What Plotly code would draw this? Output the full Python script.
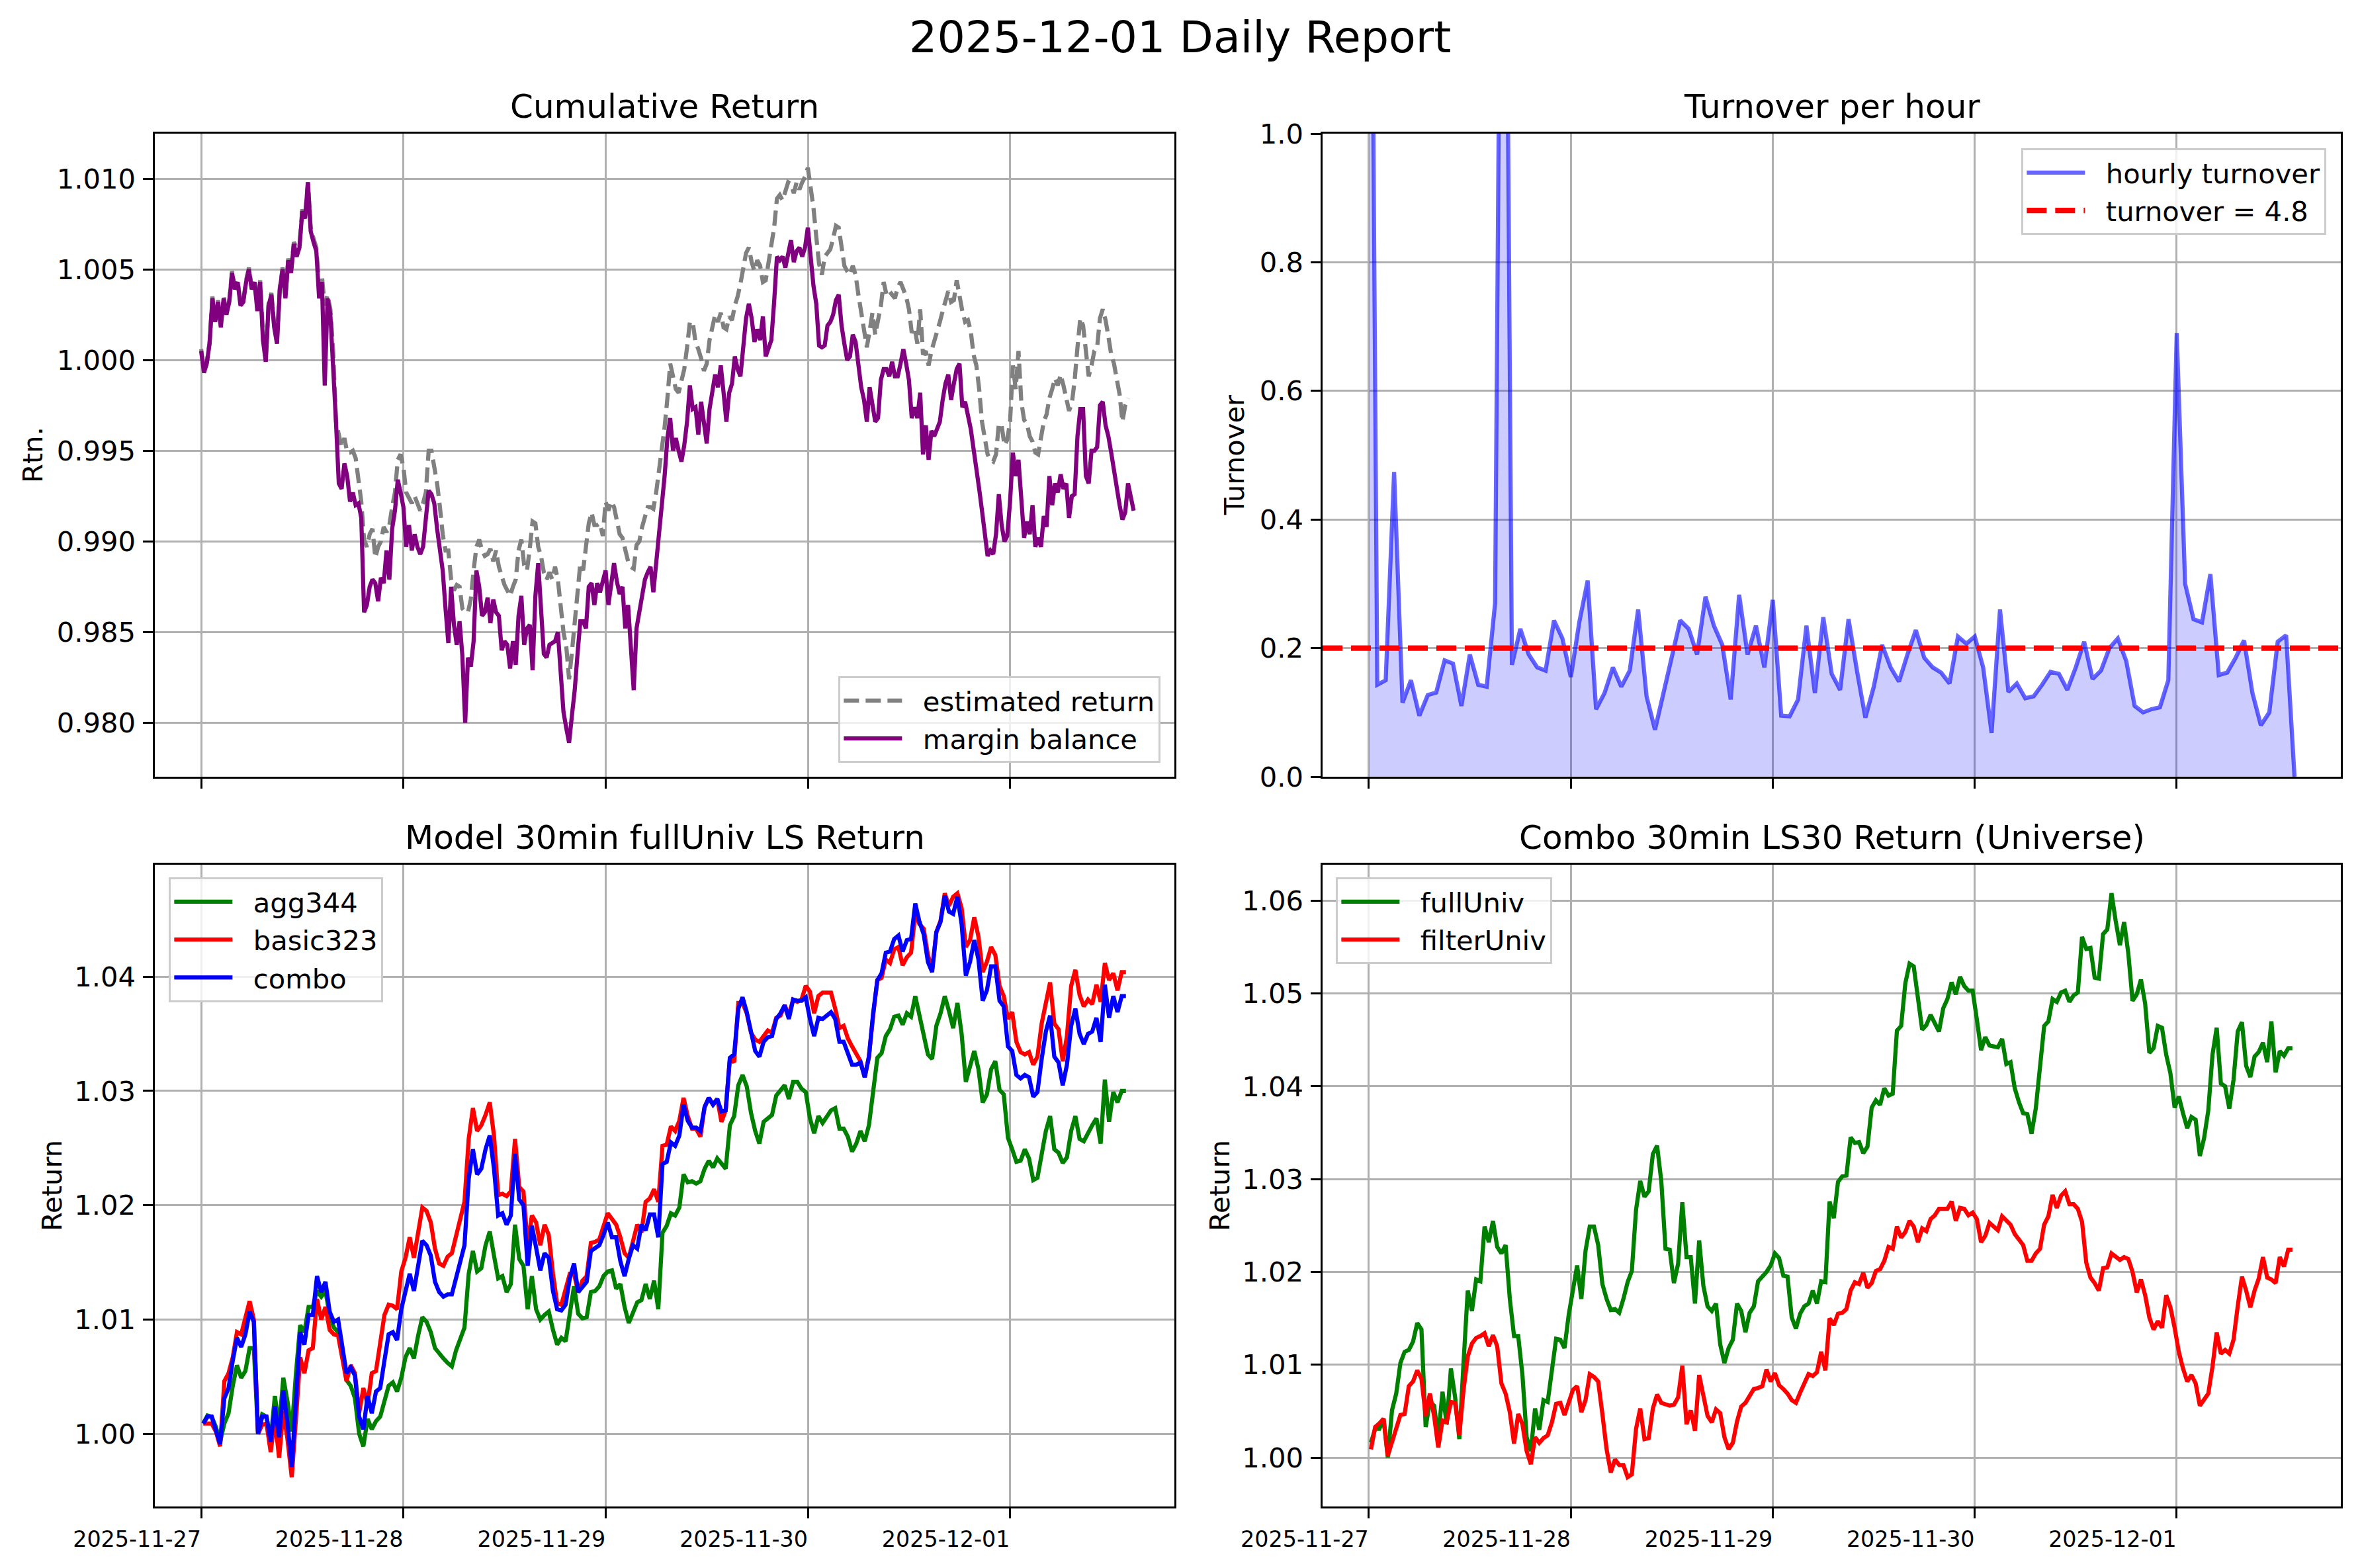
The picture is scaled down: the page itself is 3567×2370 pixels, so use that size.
#!/usr/bin/env python3
# -*- coding: utf-8 -*-
"""
================================================================================
DAILY REPORT DASHBOARD (2025-12-01) - Plotly rebuild
================================================================================
Cumulative return, hourly turnover and the two 30-minute long/short panels.
================================================================================
"""
import pandas as pd
import plotly.graph_objects as go

# =============================================================================
# DATA
# =============================================================================
REPORT_DATE = "2025-12-01"
START = pd.Timestamp("2025-11-27 00:00")        # cumulative return / turnover
START_30MIN = pd.Timestamp("2025-11-27 00:15")  # 30min model + combo returns

# cumulative return, 20-minute samples, basis points above 1.0
ESTIMATED_RETURN_BP = [
    6, -6, -1, 10, 35, 22, 33, 19, 35, 26, 33, 49, 40, 44, 31, 33, 44, 51, 40, 44,
    28, 44, 14, 1, 31, 37, 19, 12, 40, 51, 35, 56, 49, 65, 62, 63, 83, 79, 98, 73,
    67, 62, 40, 46, 30, 36, 28, 5, -34, -42, -48, -43, -51, -51, -50, -54, -66, -78,
    -99, -103, -96, -93, -109, -103, -100, -92, -95, -91, -81, -73, -55, -52, -59, -73,
    -76, -79, -75, -79, -83, -79, -73, -50, -50, -59, -68, -81, -96, -105, -105, -121,
    -127, -124, -125, -137, -139, -139, -132, -116, -103, -99, -105, -108, -107, -104,
    -111, -105, -114, -119, -124, -127, -130, -125, -121, -105, -99, -113, -116, -104,
    -89, -90, -103, -108, -117, -121, -117, -121, -114, -121, -135, -150, -158, -176,
    -161, -144, -132, -112, -116, -104, -90, -84, -91, -91, -90, -97, -78, -83, -78,
    -81, -88, -96, -98, -106, -111, -114, -115, -102, -100, -92, -86, -81, -81, -82,
    -73, -62, -50, -37, -21, -2, -9,
    -16, -18, -12, -5, 7, 21, 21, 10, 6, 1, -6, -2, 11, 18, 25, 21, 26, 18, 17, 24,
    22, 30, 35, 42, 51, 59, 62, 54, 49, 55, 52, 43, 44, 54, 61, 73, 89, 91, 88, 93,
    98, 97, 92, 98, 94, 98, 101, 106, 96, 84, 68, 53, 47, 57, 59, 61, 67, 74, 73, 64,
    52, 49, 47, 52, 47, 36, 27, 19, 7, 16, 26, 14, 22, 30, 43, 36, 38, 36, 34, 40,
    43, 39, 35, 28, 15, 18, 9, 28, 3, 5, -3, 5, 10, 16, 21, 27, 32, 38, 32, 33,
    44, 34, 27, 21, 22, 16, 3, -3, -16, -34, -45, -52, -55, -56, -52, -35, -36, -47,
    -44, -34, -3, -16, 5, -23, -33, -35, -42, -45, -51, -52, -43, -34, -30, -21, -16,
    -10, -14, -8, -14, -21, -28, -24, -11, 7, 23, 19, 2, -9, -3, 5, 7, 23, 28, 22,
    13, 3, -2, -12, -19, -34, -25, -21,
]
MARGIN_BALANCE_BP = [
    5, -7, -2, 9, 34, 21, 32, 18, 34, 25, 32, 48, 39, 43, 30, 32, 43, 50, 39, 43,
    27, 43, 11, -1, 30, 36, 18, 9, 39, 50, 34, 55, 48, 64, 57, 62, 82, 78, 98, 71,
    65, 60, 34, 43, -14, 34, 25, 0, -34, -68, -71, -57, -64, -78, -73, -80, -79, -87,
    -139, -135, -125, -121, -123, -133, -120, -123, -105, -121, -93, -83, -66, -73,
    -81, -103, -91, -105, -96, -103, -107, -103, -87, -72, -74, -79, -93, -107, -116,
    -137, -156, -125, -146, -157, -144, -163, -200, -164, -169, -155, -116, -125,
    -141, -139, -131, -145, -132, -139, -141, -160, -155, -157, -170, -155, -168,
    -141, -130, -157, -148, -146, -171, -130, -112, -137, -162, -164, -157, -156,
    -155, -150, -169, -194, -203, -211, -196, -182, -162, -144, -144, -148, -125,
    -123, -135, -123, -128, -121, -116, -135, -121, -112, -122, -129, -125, -148,
    -135, -157, -182, -148, -140, -131, -121, -117, -114, -128, -112, -100, -82, -64,
    -43, -32, -50,
    -43, -50, -56, -47, -34, -14, -27, -26, -41, -23, -35, -46, -27, -16, -8, -15,
    -3, -18, -34, -18, -13, 2, -5, -9, 9, 23, 31, 23, 10, 17, 11, 24, 2, 7, 11, 32,
    57, 55, 57, 51, 59, 66, 54, 60, 62, 57, 62, 73, 57, 41, 31, 8, 7, 8, 19, 21, 25,
    33, 36, 19, 9, 0, 2, 14, 10, -3, -15, -22, -34, -15, -25, -34, -32, -11, -5, -5,
    -9, -1, -9, -9, -2, 6, -2, -11, -32, -26, -32, -18, -52, -36, -55, -39, -42, -38,
    -34, -22, -13, -8, -22, -13, -5, -2, -26, -23, -30, -38, -49, -59, -71, -83, -97,
    -108, -105, -107, -96, -74, -91, -100, -97, -78, -51, -64, -55, -74, -98, -89,
    -96, -80, -103, -98, -103, -86, -92, -64, -80, -68, -73, -63, -71, -68, -87, -75,
    -74, -42, -27, -27, -64, -68, -50, -50, -48, -25, -23, -36, -42, -51, -62, -70,
    -80, -88, -84, -68, -75, -83,
]

# hourly turnover (first hour and the 16:00 rebalance are off the chart)
HOURLY_TURNOVER = [
    2.0, 0.143, 0.15, 0.474, 0.115, 0.15, 0.095, 0.127, 0.131, 0.181,
    0.176, 0.11, 0.19, 0.143, 0.14, 0.27, 2.0, 0.174, 0.23, 0.19,
    0.17, 0.165, 0.243, 0.215, 0.155, 0.24, 0.305, 0.105, 0.13, 0.17,
    0.14, 0.165, 0.26, 0.125, 0.073, 0.13, 0.185, 0.243, 0.23, 0.19,
    0.28, 0.235, 0.205, 0.12, 0.283, 0.19, 0.235, 0.17, 0.275, 0.095,
    0.094, 0.12, 0.235, 0.13, 0.248, 0.16, 0.135, 0.245, 0.165, 0.092,
    0.14, 0.205, 0.17, 0.148, 0.19, 0.228, 0.185, 0.17, 0.162, 0.145,
    0.218, 0.207, 0.218, 0.17, 0.068, 0.26, 0.132, 0.145, 0.122, 0.125,
    0.143, 0.163, 0.16, 0.135, 0.17, 0.21, 0.152, 0.165, 0.2, 0.215,
    0.18, 0.11, 0.1, 0.105, 0.108, 0.15, 0.69, 0.3, 0.245, 0.24,
    0.315, 0.158, 0.162, 0.185, 0.212, 0.13, 0.08, 0.1, 0.21, 0.22,
    0.0,
]
DAILY_TURNOVER = 4.8

# Model 30min fullUniv LS Return
AGG344 = [
    1.0009, 1.0016, 1.0015, 1.0006, 0.9993, 1.0009, 1.0018, 1.0042, 1.0060, 1.0049,
    1.0055, 1.0075, 1.0075, 1.0000, 1.0017, 1.0015, 0.9995, 1.0033, 1.0006, 1.0049,
    1.0028, 1.0002, 1.0053, 1.0095, 1.0089, 1.0111, 1.0111, 1.0125, 1.0120, 1.0125,
    1.0104, 1.0093, 1.0089, 1.0071, 1.0047, 1.0042, 1.0031, 1.0000, 0.9989, 1.0013,
    1.0004, 1.0011, 1.0015, 1.0029, 1.0042, 1.0045, 1.0037, 1.0049, 1.0067, 1.0075,
    1.0066, 1.0086, 1.0102, 1.0098, 1.0089, 1.0075, 1.0070, 1.0066, 1.0062, 1.0059,
    1.0073, 1.0082, 1.0093, 1.0140, 1.0160, 1.0142, 1.0145, 1.0165, 1.0177, 1.0156,
    1.0136, 1.0138, 1.0124, 1.0131, 1.0183, 1.0153, 1.0147, 1.0109, 1.0138, 1.0109,
    1.0100, 1.0104, 1.0107, 1.0091, 1.0078, 1.0084, 1.0081, 1.0105, 1.0129, 1.0105,
    1.0101, 1.0102, 1.0124, 1.0125, 1.0129, 1.0138, 1.0142, 1.0143, 1.0127, 1.0131,
    1.0111, 1.0097, 1.0107, 1.0115, 1.0117, 1.0131, 1.0118, 1.0134, 1.0109,
    1.0176, 1.0182, 1.0193, 1.0191, 1.0198, 1.0227, 1.0220, 1.0221, 1.0219, 1.0221,
    1.0232, 1.0239, 1.0233, 1.0241, 1.0236, 1.0232, 1.0270, 1.0278, 1.0305, 1.0314,
    1.0304, 1.0281, 1.0265, 1.0254, 1.0273, 1.0276, 1.0279, 1.0296, 1.0300, 1.0305,
    1.0293, 1.0308, 1.0308, 1.0302, 1.0299, 1.0276, 1.0263, 1.0278, 1.0272, 1.0278,
    1.0283, 1.0285, 1.0267, 1.0267, 1.0260, 1.0247, 1.0254, 1.0265, 1.0256, 1.0270,
    1.0299, 1.0329, 1.0333, 1.0348, 1.0354, 1.0365, 1.0366, 1.0358, 1.0368, 1.0365,
    1.0383, 1.0365, 1.0350, 1.0332, 1.0328, 1.0357, 1.0368, 1.0383, 1.0370, 1.0355,
    1.0377, 1.0350, 1.0308, 1.0321, 1.0335, 1.0319, 1.0290, 1.0297, 1.0319, 1.0326,
    1.0301, 1.0297, 1.0259, 1.0249, 1.0238, 1.0239, 1.0249, 1.0241, 1.0222, 1.0224,
    1.0245, 1.0265, 1.0278, 1.0249, 1.0246, 1.0237, 1.0242, 1.0265, 1.0278, 1.0258,
    1.0256, 1.0264, 1.0270, 1.0276, 1.0254, 1.0310, 1.0273, 1.0299, 1.0290, 1.0300,
    1.0300,
]
BASIC323 = [
    1.0009, 1.0009, 1.0009, 1.0002, 0.9989, 1.0046, 1.0053, 1.0067, 1.0089, 1.0087,
    1.0102, 1.0116, 1.0100, 1.0000, 1.0008, 1.0009, 0.9984, 1.0013, 0.9979, 1.0020,
    0.9995, 0.9962, 1.0013, 1.0067, 1.0053, 1.0073, 1.0075, 1.0118, 1.0100, 1.0111,
    1.0091, 1.0087, 1.0086, 1.0064, 1.0046, 1.0060, 1.0053, 1.0018, 1.0040, 1.0026,
    1.0053, 1.0055, 1.0082, 1.0104, 1.0113, 1.0112, 1.0109, 1.0142, 1.0154, 1.0172,
    1.0154, 1.0178, 1.0198, 1.0195, 1.0185, 1.0162, 1.0149, 1.0147, 1.0155, 1.0158,
    1.0174, 1.0191, 1.0203, 1.0258, 1.0285, 1.0265, 1.0270, 1.0279, 1.0290, 1.0261,
    1.0209, 1.0210, 1.0208, 1.0212, 1.0258, 1.0216, 1.0212, 1.0165, 1.0191, 1.0185,
    1.0165, 1.0183, 1.0174, 1.0140, 1.0114, 1.0113, 1.0125, 1.0140, 1.0140, 1.0124,
    1.0134, 1.0138, 1.0167, 1.0168, 1.0170, 1.0183, 1.0193, 1.0188, 1.0183, 1.0172,
    1.0158, 1.0154, 1.0169, 1.0183, 1.0176, 1.0203, 1.0206, 1.0214, 1.0203,
    1.0252, 1.0253, 1.0269, 1.0265, 1.0274, 1.0294, 1.0278, 1.0267, 1.0267, 1.0260,
    1.0286, 1.0294, 1.0288, 1.0293, 1.0273, 1.0283, 1.0329, 1.0325, 1.0377, 1.0377,
    1.0368, 1.0351, 1.0345, 1.0343, 1.0348, 1.0353, 1.0351, 1.0364, 1.0366, 1.0375,
    1.0366, 1.0380, 1.0378, 1.0380, 1.0392, 1.0387, 1.0368, 1.0383, 1.0386, 1.0386,
    1.0386, 1.0372, 1.0355, 1.0357, 1.0346, 1.0339, 1.0333, 1.0326, 1.0312, 1.0330,
    1.0366, 1.0397, 1.0399, 1.0415, 1.0412, 1.0424, 1.0426, 1.0410, 1.0417, 1.0421,
    1.0455, 1.0446, 1.0442, 1.0419, 1.0406, 1.0439, 1.0449, 1.0473, 1.0462, 1.0470,
    1.0473, 1.0460, 1.0426, 1.0432, 1.0452, 1.0435, 1.0404, 1.0413, 1.0426, 1.0419,
    1.0392, 1.0383, 1.0363, 1.0369, 1.0343, 1.0334, 1.0332, 1.0334, 1.0323, 1.0330,
    1.0359, 1.0379, 1.0395, 1.0359, 1.0354, 1.0326, 1.0348, 1.0392, 1.0406, 1.0384,
    1.0374, 1.0380, 1.0376, 1.0393, 1.0378, 1.0412, 1.0397, 1.0403, 1.0388, 1.0404,
    1.0404,
]
COMBO = [
    1.0009, 1.0015, 1.0015, 1.0004, 0.9991, 1.0031, 1.0040, 1.0064, 1.0084, 1.0076,
    1.0087, 1.0107, 1.0098, 1.0000, 1.0015, 1.0015, 0.9993, 1.0024, 0.9997, 1.0038,
    1.0009, 0.9971, 1.0031, 1.0089, 1.0078, 1.0104, 1.0104, 1.0138, 1.0124, 1.0133,
    1.0107, 1.0098, 1.0100, 1.0075, 1.0053, 1.0058, 1.0051, 1.0015, 1.0004, 1.0033,
    1.0018, 1.0037, 1.0040, 1.0064, 1.0087, 1.0089, 1.0082, 1.0109, 1.0125, 1.0140,
    1.0125, 1.0147, 1.0169, 1.0165, 1.0156, 1.0133, 1.0124, 1.0120, 1.0122, 1.0122,
    1.0136, 1.0153, 1.0165, 1.0223, 1.0249, 1.0227, 1.0232, 1.0249, 1.0261, 1.0232,
    1.0191, 1.0193, 1.0183, 1.0191, 1.0245, 1.0205, 1.0200, 1.0147, 1.0182, 1.0163,
    1.0143, 1.0158, 1.0154, 1.0125, 1.0109, 1.0108, 1.0113, 1.0136, 1.0149, 1.0124,
    1.0129, 1.0133, 1.0160, 1.0162, 1.0165, 1.0174, 1.0185, 1.0172, 1.0172, 1.0151,
    1.0138, 1.0153, 1.0165, 1.0162, 1.0183, 1.0178, 1.0192, 1.0192, 1.0172,
    1.0236, 1.0238, 1.0255, 1.0252, 1.0261, 1.0288, 1.0274, 1.0268, 1.0268, 1.0265,
    1.0286, 1.0294, 1.0288, 1.0293, 1.0282, 1.0283, 1.0329, 1.0332, 1.0372, 1.0382,
    1.0369, 1.0350, 1.0335, 1.0330, 1.0343, 1.0347, 1.0348, 1.0363, 1.0368, 1.0375,
    1.0363, 1.0380, 1.0379, 1.0379, 1.0382, 1.0363, 1.0348, 1.0364, 1.0363, 1.0366,
    1.0369, 1.0363, 1.0343, 1.0343, 1.0332, 1.0323, 1.0323, 1.0325, 1.0312, 1.0330,
    1.0368, 1.0397, 1.0403, 1.0421, 1.0422, 1.0433, 1.0436, 1.0422, 1.0432, 1.0433,
    1.0464, 1.0448, 1.0437, 1.0413, 1.0404, 1.0439, 1.0448, 1.0471, 1.0457, 1.0455,
    1.0470, 1.0446, 1.0401, 1.0413, 1.0432, 1.0415, 1.0379, 1.0388, 1.0409, 1.0409,
    1.0379, 1.0374, 1.0339, 1.0335, 1.0314, 1.0311, 1.0314, 1.0312, 1.0295, 1.0299,
    1.0328, 1.0352, 1.0366, 1.0330, 1.0325, 1.0305, 1.0323, 1.0357, 1.0372, 1.0350,
    1.0341, 1.0350, 1.0352, 1.0364, 1.0343, 1.0393, 1.0364, 1.0383, 1.0369, 1.0383,
    1.0383,
]

# Combo 30min LS30 Return (Universe)
FULL_UNIV = [
    1.0016, 1.0031, 1.0031, 1.0042, 1.0000, 1.0051, 1.0069, 1.0102, 1.0114, 1.0116,
    1.0125, 1.0145, 1.0138, 1.0033, 1.0060, 1.0056, 1.0022, 1.0071, 1.0036, 1.0096,
    1.0065, 1.0020, 1.0102, 1.0180, 1.0158, 1.0192, 1.0190, 1.0249, 1.0232, 1.0255,
    1.0227, 1.0220, 1.0229, 1.0171, 1.0131, 1.0131, 1.0089, 1.0022, 1.0007, 1.0053,
    1.0030, 1.0062, 1.0060, 1.0094, 1.0128, 1.0127, 1.0118, 1.0154, 1.0180, 1.0207,
    1.0171, 1.0223, 1.0249, 1.0249, 1.0229, 1.0187, 1.0171, 1.0159, 1.0160, 1.0156,
    1.0171, 1.0189, 1.0201, 1.0267, 1.0298, 1.0281, 1.0287, 1.0327, 1.0336, 1.0298,
    1.0225, 1.0224, 1.0188, 1.0209, 1.0275, 1.0216, 1.0216, 1.0166, 1.0234, 1.0185,
    1.0163, 1.0158, 1.0166, 1.0122, 1.0102, 1.0118, 1.0127, 1.0166, 1.0158, 1.0135,
    1.0156, 1.0163, 1.0190, 1.0195, 1.0200, 1.0207, 1.0220, 1.0215, 1.0196, 1.0195,
    1.0151, 1.0139, 1.0155, 1.0163, 1.0166, 1.0180, 1.0166, 1.0190, 1.0189,
    1.0276, 1.0258, 1.0297, 1.0303, 1.0304, 1.0345, 1.0339, 1.0340, 1.0328, 1.0335,
    1.0377, 1.0385, 1.0380, 1.0398, 1.0390, 1.0392, 1.0460, 1.0465, 1.0511, 1.0532,
    1.0529, 1.0497, 1.0461, 1.0466, 1.0477, 1.0468, 1.0459, 1.0484, 1.0494, 1.0512,
    1.0499, 1.0518, 1.0508, 1.0503, 1.0503, 1.0472, 1.0439, 1.0453, 1.0444, 1.0443,
    1.0442, 1.0451, 1.0424, 1.0426, 1.0398, 1.0383, 1.0371, 1.0370, 1.0349, 1.0376,
    1.0421, 1.0465, 1.0470, 1.0494, 1.0491, 1.0501, 1.0503, 1.0491, 1.0498, 1.0501,
    1.0561, 1.0548, 1.0549, 1.0517, 1.0516, 1.0564, 1.0569, 1.0608, 1.0578, 1.0552,
    1.0577, 1.0543, 1.0492, 1.0499, 1.0515, 1.0489, 1.0436, 1.0441, 1.0465, 1.0463,
    1.0434, 1.0414, 1.0377, 1.0389, 1.0371, 1.0355, 1.0367, 1.0364, 1.0325, 1.0344,
    1.0374, 1.0434, 1.0463, 1.0403, 1.0400, 1.0376, 1.0407, 1.0459, 1.0469, 1.0422,
    1.0410, 1.0432, 1.0437, 1.0447, 1.0426, 1.0470, 1.0415, 1.0438, 1.0433, 1.0441,
    1.0441,
]
FILTER_UNIV = [
    1.0009, 1.0033, 1.0037, 1.0042, 1.0002, 1.0016, 1.0033, 1.0046, 1.0047, 1.0077,
    1.0082, 1.0094, 1.0085, 1.0045, 1.0069, 1.0045, 1.0011, 1.0040, 1.0038, 1.0060,
    1.0059, 1.0024, 1.0073, 1.0109, 1.0123, 1.0129, 1.0131, 1.0134, 1.0120, 1.0132,
    1.0120, 1.0080, 1.0069, 1.0049, 1.0015, 1.0047, 1.0036, 1.0007, 0.9993, 1.0022,
    1.0016, 1.0021, 1.0024, 1.0038, 1.0058, 1.0059, 1.0046, 1.0058, 1.0073, 1.0077,
    1.0049, 1.0062, 1.0090, 1.0087, 1.0082, 1.0047, 1.0009, 0.9984, 0.9998, 0.9992,
    0.9992, 0.9979, 0.9982, 1.0031, 1.0053, 1.0020, 1.0021, 1.0053, 1.0068, 1.0059,
    1.0057, 1.0056, 1.0057, 1.0065, 1.0099, 1.0036, 1.0051, 1.0029, 1.0089, 1.0067,
    1.0045, 1.0038, 1.0052, 1.0048, 1.0022, 1.0009, 1.0016, 1.0039, 1.0055, 1.0059,
    1.0067, 1.0074, 1.0075, 1.0077, 1.0095, 1.0082, 1.0091, 1.0078, 1.0074, 1.0069,
    1.0062, 1.0059, 1.0070, 1.0079, 1.0090, 1.0088, 1.0092, 1.0114, 1.0094,
    1.0150, 1.0143, 1.0155, 1.0156, 1.0160, 1.0180, 1.0189, 1.0187, 1.0199, 1.0183,
    1.0188, 1.0201, 1.0203, 1.0212, 1.0227, 1.0225, 1.0249, 1.0237, 1.0243, 1.0255,
    1.0249, 1.0232, 1.0247, 1.0244, 1.0257, 1.0261, 1.0268, 1.0268, 1.0268, 1.0276,
    1.0255, 1.0269, 1.0268, 1.0261, 1.0264, 1.0257, 1.0232, 1.0239, 1.0253, 1.0249,
    1.0245, 1.0260, 1.0256, 1.0251, 1.0241, 1.0235, 1.0229, 1.0212, 1.0212, 1.0220,
    1.0225, 1.0251, 1.0260, 1.0283, 1.0269, 1.0282, 1.0287, 1.0273, 1.0273, 1.0268,
    1.0254, 1.0210, 1.0194, 1.0188, 1.0180, 1.0204, 1.0205, 1.0220, 1.0217, 1.0213,
    1.0216, 1.0214, 1.0200, 1.0178, 1.0192, 1.0175, 1.0151, 1.0138, 1.0147, 1.0140,
    1.0175, 1.0162, 1.0140, 1.0114, 1.0096, 1.0082, 1.0089, 1.0080, 1.0056, 1.0062,
    1.0069, 1.0098, 1.0135, 1.0112, 1.0116, 1.0112, 1.0127, 1.0163, 1.0195, 1.0180,
    1.0162, 1.0180, 1.0193, 1.0216, 1.0194, 1.0192, 1.0188, 1.0216, 1.0206, 1.0224,
    1.0224,
]

# =============================================================================
# LOOK (matplotlib-like at 300 dpi)
# =============================================================================
W, H = 3567, 2370
PT = 300 / 72                      # px per point
LW = 1.5 * PT
FONT = "DejaVu Sans"
GRID = "#b0b0b0"
PAD = "\u00a0\u00a0"               # gap between legend handle and label

# axes boxes in pixels: (left, top, right, bottom)
BOX_TL = (234, 202, 1775, 1174)
BOX_TR = (1999, 202, 3538, 1174)
BOX_BL = (234, 1307, 1775, 2277)
BOX_BR = (1999, 1307, 3538, 2277)

X_RANGE = [START - pd.Timedelta(hours=5.5), START + pd.Timedelta(hours=115.5)]
DAY_TICKS = pd.date_range("2025-11-27", "2025-12-01", freq="D")


def xdom(box):
    return [box[0] / W, box[2] / W]


def ydom(box):
    return [1 - box[3] / H, 1 - box[1] / H]


def x_axis(box, anchor, labels):
    return dict(
        domain=xdom(box), anchor=anchor, type="date", range=X_RANGE, automargin=False,
        tickvals=list(DAY_TICKS), tickformat="%Y-%m-%d", showticklabels=labels,
        tickfont=dict(family=FONT, size=8 * PT, color="black"),
        ticklabelshift=-97, ticklabelstandoff=3,
        ticks="outside", ticklen=3.5 * PT, tickwidth=0.8 * PT, tickcolor="black",
        showline=True, mirror=True, linecolor="black", linewidth=0.8 * PT,
        showgrid=True, gridcolor=GRID, gridwidth=0.8 * PT, zeroline=False,
    )


def y_axis(box, anchor, rng, dtick, fmt):
    return dict(
        domain=ydom(box), anchor=anchor, range=rng, dtick=dtick, tick0=0,
        automargin=False, tickformat=fmt,
        tickfont=dict(family=FONT, size=10 * PT, color="black"),
        ticklabelstandoff=3,
        ticks="outside", ticklen=3.5 * PT, tickwidth=0.8 * PT, tickcolor="black",
        showline=True, mirror=True, linecolor="black", linewidth=0.8 * PT,
        showgrid=True, gridcolor=GRID, gridwidth=0.8 * PT, zeroline=False,
    )


def text(s, x, y, size, angle=0):
    return dict(text=s, x=x / W, y=1 - y / H, xref="paper", yref="paper",
                xanchor="center", yanchor="middle", showarrow=False, textangle=angle,
                font=dict(family=FONT, size=size, color="black"))


def legend_box(x, y, xanchor, yanchor):
    return dict(x=x / W, y=1 - y / H, xanchor=xanchor, yanchor=yanchor,
                bgcolor="rgba(255,255,255,0.8)", bordercolor="#cccccc",
                borderwidth=0.8 * PT, font=dict(family=FONT, size=10 * PT, color="black"),
                itemwidth=88, tracegroupgap=0)


# =============================================================================
# FIGURE
# =============================================================================
def build_report():
    fig = go.Figure()

    # --- 1. CUMULATIVE RETURN ---
    t_cum = pd.date_range(START, periods=len(MARGIN_BALANCE_BP), freq="20min")
    fig.add_trace(go.Scatter(
        x=t_cum[:len(ESTIMATED_RETURN_BP)], y=[1 + b / 1e4 for b in ESTIMATED_RETURN_BP],
        mode="lines", name=PAD + "estimated return",
        line=dict(color="gray", width=LW, dash="23px,10px"),
        xaxis="x", yaxis="y", legend="legend"))
    fig.add_trace(go.Scatter(
        x=t_cum, y=[1 + b / 1e4 for b in MARGIN_BALANCE_BP], mode="lines",
        name=PAD + "margin balance", line=dict(color="purple", width=LW),
        xaxis="x", yaxis="y", legend="legend"))

    # --- 2. TURNOVER PER HOUR ---
    t_hour = pd.date_range(START, periods=len(HOURLY_TURNOVER), freq="h")
    fig.add_trace(go.Scatter(
        x=t_hour, y=HOURLY_TURNOVER, mode="lines", line=dict(width=0),
        fill="tozeroy", fillcolor="rgba(0,0,255,0.2)", showlegend=False,
        hoverinfo="skip", xaxis="x2", yaxis="y2"))
    fig.add_trace(go.Scatter(
        x=t_hour, y=HOURLY_TURNOVER, mode="lines", name=PAD + "hourly turnover",
        line=dict(color="rgba(0,0,255,0.6)", width=LW), xaxis="x2", yaxis="y2",
        legend="legend2"))
    fig.add_trace(go.Scatter(
        x=X_RANGE, y=[DAILY_TURNOVER / 24] * 2, mode="lines",
        name=PAD + f"turnover = {DAILY_TURNOVER}",
        line=dict(color="red", width=2 * PT, dash="30px,13px"),
        xaxis="x2", yaxis="y2", legend="legend2"))

    # --- 3. MODEL 30MIN RETURNS ---
    t_30 = pd.date_range(START_30MIN, periods=len(COMBO), freq="30min")
    for name, vals, color in (("agg344", AGG344, "green"), ("basic323", BASIC323, "red"),
                              ("combo", COMBO, "blue")):
        fig.add_trace(go.Scatter(
            x=t_30, y=vals, mode="lines", name=PAD + name, line=dict(color=color, width=LW),
            xaxis="x3", yaxis="y3", legend="legend3"))

    # --- 4. COMBO BY UNIVERSE ---
    for name, vals, color in (("fullUniv", FULL_UNIV, "green"), ("filterUniv", FILTER_UNIV, "red")):
        fig.add_trace(go.Scatter(
            x=t_30, y=vals, mode="lines", name=PAD + name, line=dict(color=color, width=LW),
            xaxis="x4", yaxis="y4", legend="legend4"))

    # --- 5. LAYOUT ---
    annotations = [
        text(f"{REPORT_DATE} Daily Report", W / 2, 56, 16 * PT),
        text("Cumulative Return", (BOX_TL[0] + BOX_TL[2]) / 2, 161, 12 * PT),
        text("Turnover per hour", (BOX_TR[0] + BOX_TR[2]) / 2, 161, 12 * PT),
        text("Model 30min fullUniv LS Return", (BOX_BL[0] + BOX_BL[2]) / 2, 1266, 12 * PT),
        text("Combo 30min LS30 Return (Universe)", (BOX_BR[0] + BOX_BR[2]) / 2, 1266, 12 * PT),
        text("Rtn.", 50, 688, 10 * PT, -90),
        text("Turnover", 1866, 688, 10 * PT, -90),
        text("Return", 78, 1792, 10 * PT, -90),
        text("Return", 1843, 1792, 10 * PT, -90),
    ]

    fig.update_layout(
        width=W, height=H, autosize=False,
        margin=dict(l=0, r=0, t=0, b=0, autoexpand=False),
        paper_bgcolor="white", plot_bgcolor="white",
        font=dict(family=FONT, color="black"),
        xaxis=x_axis(BOX_TL, "y", False),
        yaxis=y_axis(BOX_TL, "x", [0.97703, 1.01248], 0.005, ".3f"),
        xaxis2=x_axis(BOX_TR, "y2", False),
        yaxis2=y_axis(BOX_TR, "x2", [0, 1], 0.2, ".1f"),
        xaxis3=x_axis(BOX_BL, "y3", True),
        yaxis3=y_axis(BOX_BL, "x3", [0.99364, 1.0498], 0.01, ".2f"),
        xaxis4=x_axis(BOX_BR, "y4", True),
        yaxis4=y_axis(BOX_BR, "x4", [0.99474, 1.06387], 0.01, ".2f"),
        legend=legend_box(1754, 1153, "right", "bottom"),
        legend2=legend_box(3516, 224, "right", "top"),
        legend3=legend_box(255, 1326, "left", "top"),
        legend4=legend_box(2019, 1326, "left", "top"),
        annotations=annotations,
        showlegend=True,
    )
    return fig


if __name__ == "__main__":
    fig = build_report()
    # the page body keeps its default 8px margin otherwise
    fig.write_html("out.html", config={"displayModeBar": False},
                   post_script="document.body.style.margin = '0px';")
    print("saved out.html")
